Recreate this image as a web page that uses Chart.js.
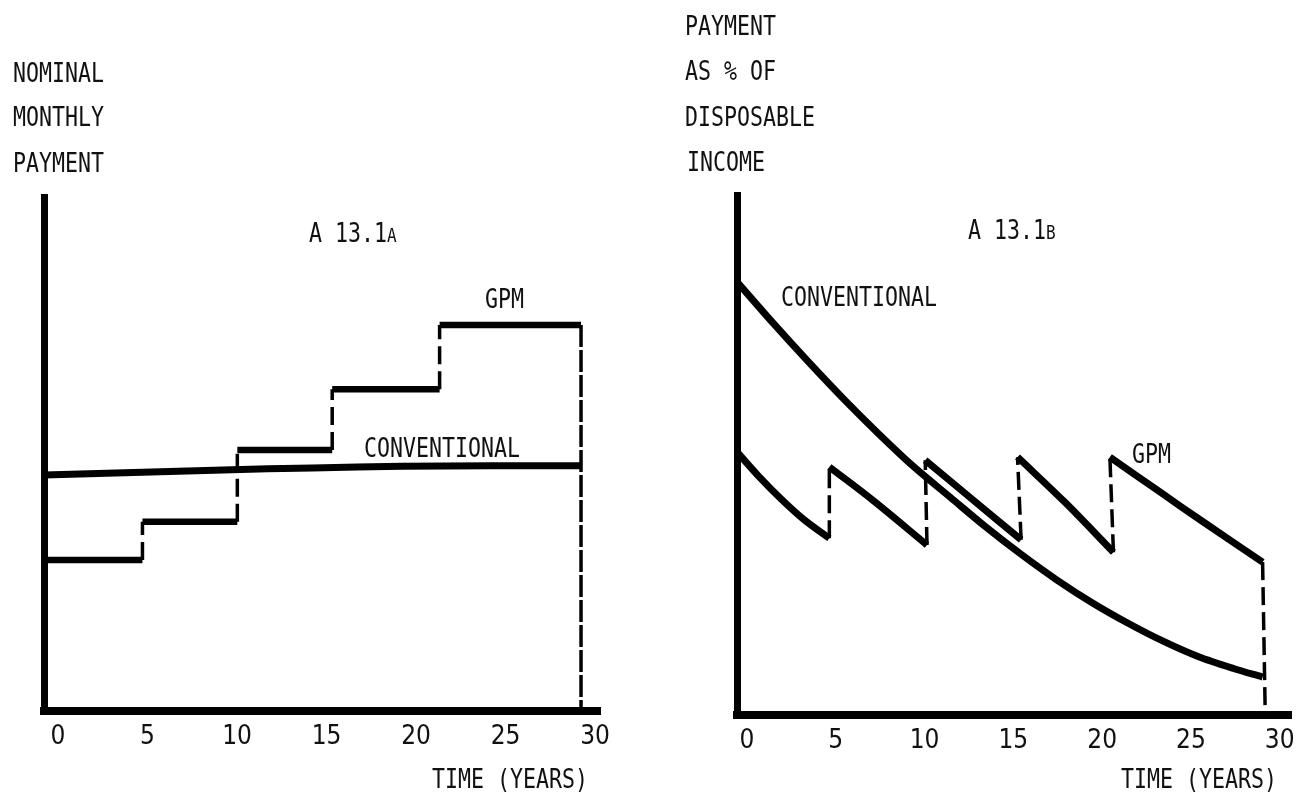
<!DOCTYPE html>
<html>
<head>
<meta charset="utf-8">
<script src="https://cdn.jsdelivr.net/npm/chart.js@4.4.1/dist/chart.umd.min.js"></script>
<style>
body { margin: 0; background: #fff; width: 1303px; height: 793px; overflow: hidden; position: relative; }
canvas { position: absolute; top: 0; }
#chart-a { left: 0; }
#chart-b { left: 651px; }
.t { position: absolute; font-family: 'DejaVu Sans Mono', monospace; font-size: 27px; line-height: 27px; color: #111;
     transform: scaleX(0.8); transform-origin: 0 0; white-space: nowrap; }
.sc { font-size: 20px; }
</style>
</head>
<body>
<canvas id="chart-a" width="651" height="793"></canvas>
<canvas id="chart-b" width="652" height="793"></canvas>

<div class="t" style="left:13px;top:59px">NOMINAL</div>
<div class="t" style="left:13px;top:103px">MONTHLY</div>
<div class="t" style="left:13px;top:149px">PAYMENT</div>
<div class="t" style="left:309px;top:219px">A 13.1<span class="sc">A</span></div>
<div class="t" style="left:485px;top:285px">GPM</div>
<div class="t" style="left:364px;top:434px">CONVENTIONAL</div>
<div class="t" style="left:432px;top:765px">TIME (YEARS)</div>

<div class="t" style="left:685px;top:12px">PAYMENT</div>
<div class="t" style="left:685px;top:57px">AS % OF</div>
<div class="t" style="left:685px;top:103px">DISPOSABLE</div>
<div class="t" style="left:687px;top:148px">INCOME</div>
<div class="t" style="left:968px;top:216px">A 13.1<span class="sc">B</span></div>
<div class="t" style="left:781px;top:283px">CONVENTIONAL</div>
<div class="t" style="left:1132px;top:440px">GPM</div>
<div class="t" style="left:1121px;top:765px">TIME (YEARS)</div>

<script>
var xTicks = [0, 5, 10, 15, 20, 25, 30];

// A13.1a - nominal monthly payment
var convYearsA = [0, 5, 10, 15, 20, 25, 30];
var convValuesA = [45.9, 46.4, 46.9, 47.3, 47.6, 47.7, 47.7];
var gpmStepYearsA = [0, 5.5, 10.8, 16.1, 22.1, 30];
var gpmLevelsA = [29.4, 36.8, 50.8, 62.6, 75.1];

// A13.1b - payment as % of disposable income
var convYearsB = [0, 2, 4, 6, 8, 10, 12, 14, 16, 18, 20, 22, 24, 26, 28, 29.6];
var convValuesB = [83.3, 75.5, 68.0, 60.8, 54.0, 47.6, 41.9, 36.2, 30.9, 26.0, 21.6, 17.7, 14.2, 11.2, 8.9, 7.3];
var gpmYearsB = [
    [0, 1.2, 2.5, 3.8, 5.2],
    [5.2, 7.65, 10.7],
    [10.6, 13.1, 16.0],
    [15.8, 18.5, 21.2],
    [21.0, 23.9, 26.1, 29.6]
];
var gpmValuesB = [
    [50.6, 46.0, 41.5, 37.5, 34.0],
    [47.7, 41.3, 32.7],
    [49.0, 41.9, 33.7],
    [49.6, 40.8, 31.3],
    [49.6, 42.7, 37.5, 29.4]
];

var DASH = [18, 7];

function toPoints(xs, ys) {
    return xs.map(function (x, i) {
        return { x: x, y: ys[i] };
    });
}

function stepPoints(years, levels) {
    var pts = [];
    for (var i = 0; i < levels.length; i++) {
        pts.push({ x: years[i], y: levels[i] });
        pts.push({ x: years[i + 1], y: levels[i] });
    }
    // drop back to the axis at the end of the term
    pts.push({ x: years[years.length - 1], y: 0 });
    return pts;
}

function isRiser(ctx) {
    return ctx.p0.parsed.x === ctx.p1.parsed.x;
}

function chartOptions(xMax, labelOffset, pad, axisHeight) {
    return {
        responsive: false,
        animation: false,
        layout: { padding: pad },
        plugins: {
            legend: { display: false },
            tooltip: { enabled: false }
        },
        elements: {
            point: { radius: 0 },
            line: { borderColor: '#000', borderWidth: 6.5, borderCapStyle: 'butt', fill: false }
        },
        scales: {
            x: {
                type: 'linear',
                min: 0,
                max: xMax,
                afterBuildTicks: function (scale) {
                    scale.ticks = xTicks.map(function (v) { return { value: v }; });
                },
                afterFit: function (scale) { scale.height = axisHeight; },
                grid: { display: false, drawTicks: false },
                border: { display: true, color: '#000', width: 8 },
                ticks: {
                    color: '#111',
                    padding: 11,
                    labelOffset: labelOffset,
                    maxRotation: 0,
                    autoSkip: false,
                    font: { family: "'DejaVu Sans Condensed', 'DejaVu Sans', sans-serif", size: 26 }
                }
            },
            y: {
                min: 0,
                max: 100,
                afterFit: function (scale) { scale.width = 0; },
                grid: { display: false, drawTicks: false },
                border: { display: true, color: '#000', width: 7 },
                ticks: { display: false }
            }
        }
    };
}

function dashedLine(points) {
    return { data: points, borderWidth: 3.5, borderDash: DASH };
}

// left panel
new Chart(document.getElementById('chart-a'), {
    type: 'line',
    data: {
        datasets: [
            { data: toPoints(convYearsA, convValuesA), borderWidth: 7, tension: 0.3 },
            {
                data: stepPoints(gpmStepYearsA, gpmLevelsA),
                segment: {
                    borderDash: function (ctx) { return isRiser(ctx) ? DASH : undefined; },
                    borderWidth: function (ctx) { return isRiser(ctx) ? 3.5 : 6.5; }
                }
            }
        ]
    },
    options: chartOptions(31.06, 14, { left: 44, top: 197, right: 51, bottom: 0 }, 82)
});

// right panel
var datasetsB = [
    { data: toPoints(convYearsB, convValuesB), tension: 0.3, borderWidth: 7 }
];
for (var i = 0; i < gpmYearsB.length; i++) {
    datasetsB.push({ data: toPoints(gpmYearsB[i], gpmValuesB[i]), tension: 0.35, borderWidth: 7 });
    var endX = gpmYearsB[i][gpmYearsB[i].length - 1];
    var endY = gpmValuesB[i][gpmValuesB[i].length - 1];
    if (i < gpmYearsB.length - 1) {
        datasetsB.push(dashedLine([{ x: endX, y: endY }, { x: gpmYearsB[i + 1][0], y: gpmValuesB[i + 1][0] }]));
    } else {
        datasetsB.push(dashedLine([{ x: endX, y: endY }, { x: endX + 0.15, y: 0 }]));
    }
}

new Chart(document.getElementById('chart-b'), {
    type: 'line',
    data: { datasets: datasetsB },
    options: chartOptions(31.2, 10, { left: 86, top: 195, right: 12, bottom: 0 }, 78)
});
</script>
</body>
</html>
